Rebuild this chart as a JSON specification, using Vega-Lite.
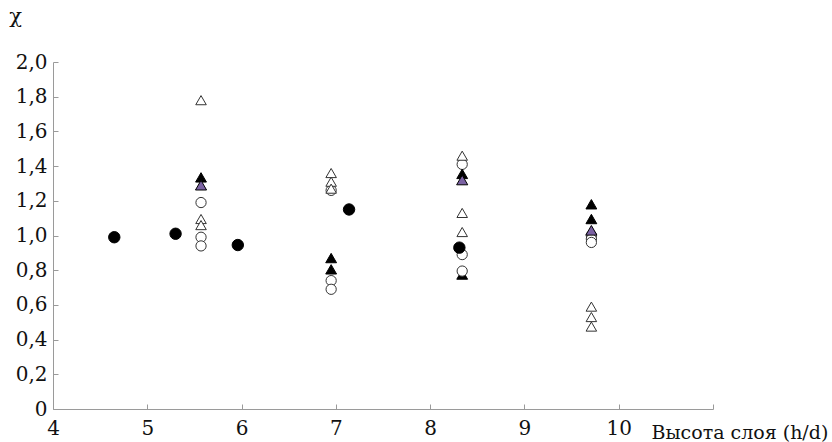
{
  "$schema": "https://vega.github.io/schema/vega-lite/v6.json",
  "width": 660,
  "height": 347,
  "autosize": {"type": "none"},
  "padding": {"left": 53, "top": 62, "right": 119, "bottom": 33},
  "background": "white",
  "config": {"view": {"stroke": null}, "font": "DejaVu Serif"},
  "data": {
    "values": [
      {"x": 8.34, "y": 0.775, "type": "btri"},
      {"x": 5.57, "y": 1.19, "type": "ocircle"},
      {"x": 5.57, "y": 0.99, "type": "ocircle"},
      {"x": 5.57, "y": 0.94, "type": "ocircle"},
      {"x": 6.95, "y": 1.26, "type": "ocircle"},
      {"x": 6.95, "y": 0.74, "type": "ocircle"},
      {"x": 6.95, "y": 0.69, "type": "ocircle"},
      {"x": 8.34, "y": 1.41, "type": "ocircle"},
      {"x": 8.34, "y": 0.89, "type": "ocircle"},
      {"x": 8.34, "y": 0.795, "type": "ocircle"},
      {"x": 9.71, "y": 1.0, "type": "ocircle"},
      {"x": 9.71, "y": 0.98, "type": "ocircle"},
      {"x": 9.71, "y": 0.96, "type": "ocircle"},
      {"x": 5.57, "y": 1.78, "type": "otri"},
      {"x": 5.57, "y": 1.095, "type": "otri"},
      {"x": 5.57, "y": 1.06, "type": "otri"},
      {"x": 6.95, "y": 1.36, "type": "otri"},
      {"x": 6.95, "y": 1.31, "type": "otri"},
      {"x": 6.95, "y": 1.27, "type": "otri"},
      {"x": 8.34, "y": 1.46, "type": "otri"},
      {"x": 8.34, "y": 1.13, "type": "otri"},
      {"x": 8.34, "y": 1.02, "type": "otri"},
      {"x": 9.71, "y": 0.59, "type": "otri"},
      {"x": 9.71, "y": 0.53, "type": "otri"},
      {"x": 9.71, "y": 0.475, "type": "otri"},
      {"x": 5.57, "y": 1.335, "type": "btri"},
      {"x": 6.95, "y": 0.87, "type": "btri"},
      {"x": 6.95, "y": 0.805, "type": "btri"},
      {"x": 8.34, "y": 1.355, "type": "btri"},
      {"x": 9.71, "y": 1.18, "type": "btri"},
      {"x": 9.71, "y": 1.095, "type": "btri"},
      {"x": 5.57, "y": 1.29, "type": "ptri"},
      {"x": 8.34, "y": 1.32, "type": "ptri"},
      {"x": 9.71, "y": 1.03, "type": "ptri"},
      {"x": 4.65, "y": 0.99, "type": "dot"},
      {"x": 5.3, "y": 1.01, "type": "dot"},
      {"x": 5.96, "y": 0.945, "type": "dot"},
      {"x": 7.14, "y": 1.15, "type": "dot"},
      {"x": 8.31, "y": 0.93, "type": "dot"}
    ]
  },
  "mark": {"type": "point", "filled": true, "strokeWidth": 1, "opacity": 1},
  "encoding": {
    "x": {
      "field": "x",
      "type": "quantitative",
      "scale": {"domain": [4, 11], "nice": false, "zero": false},
      "axis": {
        "values": [4, 5, 6, 7, 8, 9, 10, 11],
        "labelExpr": "datum.value == 11 ? '' : datum.label",
        "grid": false,
        "domainColor": "#9a9a9a",
        "tickColor": "#9a9a9a",
        "tickSize": -5,
        "labelPadding": 14,
        "labelFont": "DejaVu Serif",
        "labelFontSize": 20,
        "labelColor": "#111",
        "labelFlush": false,
        "title": "Высота слоя (h/d)",
        "titleFont": "DejaVu Serif",
        "titleFontSize": 19,
        "titleFontWeight": "normal",
        "titleColor": "#111",
        "titleAlign": "left",
        "titleBaseline": "alphabetic",
        "titleAnchor": "start",
        "titleX": 598,
        "titleY": 29
      }
    },
    "y": {
      "field": "y",
      "type": "quantitative",
      "scale": {"domain": [0, 2], "nice": false},
      "axis": {
        "values": [0, 0.2, 0.4, 0.6, 0.8, 1.0, 1.2, 1.4, 1.6, 1.8, 2.0],
        "labelExpr": "datum.value == 0 ? '0' : replace(format(datum.value, '.1f'), '.', ',')",
        "grid": false,
        "domainColor": "#9a9a9a",
        "tickColor": "#9a9a9a",
        "tickSize": -5,
        "labelPadding": 11,
        "labelFont": "DejaVu Serif",
        "labelFontSize": 20,
        "labelColor": "#111",
        "labelFlush": false,
        "title": "χ",
        "titleFont": "DejaVu Serif",
        "titleFontSize": 21,
        "titleFontWeight": "normal",
        "titleColor": "#111",
        "titleAngle": 0,
        "titleAlign": "center",
        "titleBaseline": "middle",
        "titleX": -38,
        "titleY": -46
      }
    },
    "shape": {
      "field": "type",
      "type": "nominal",
      "scale": {"domain": ["ocircle", "otri", "btri", "ptri", "dot"], "range": ["circle", "triangle-up", "triangle-up", "triangle-up", "circle"]},
      "legend": null
    },
    "fill": {
      "field": "type",
      "type": "nominal",
      "scale": {"domain": ["ocircle", "otri", "btri", "ptri", "dot"], "range": ["#ffffff", "#ffffff", "#000000", "#7b62a3", "#000000"]},
      "legend": null
    },
    "stroke": {
      "field": "type",
      "type": "nominal",
      "scale": {"domain": ["ocircle", "otri", "btri", "ptri", "dot"], "range": ["#333333", "#333333", "#000000", "#000000", "#000000"]},
      "legend": null
    },
    "size": {
      "field": "type",
      "type": "nominal",
      "scale": {"domain": ["ocircle", "otri", "btri", "ptri", "dot"], "range": [105, 130, 130, 130, 210]},
      "legend": null
    }
  }
}
